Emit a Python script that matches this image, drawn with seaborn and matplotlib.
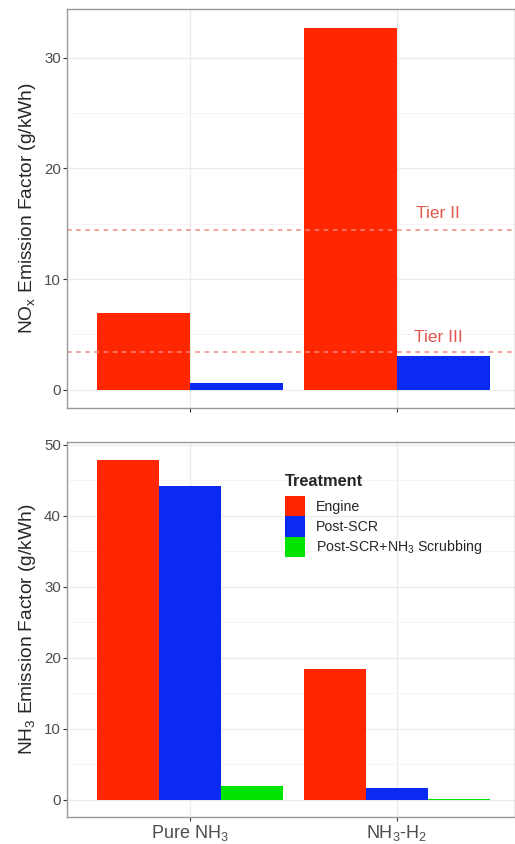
import numpy as np
import pandas as pd
import seaborn as sns
import matplotlib
matplotlib.use("Agg")
import matplotlib.pyplot as plt
from matplotlib.ticker import MultipleLocator

# data
fuels = ["Pure NH$_3$", "NH$_3$-H$_2$"]
fuel_labels = [r"Pure $\mathregular{NH_3}$", r"$\mathregular{NH_3}$-$\mathregular{H_2}$"]
treatments = ["Engine", "Post-SCR", "Post-SCR+NH3 Scrubbing"]
treat_labels = ["Engine", "Post-SCR", r"Post-SCR+$\mathregular{NH_3}$ Scrubbing"]
nox_engine = [6.9, 32.7]
nox_postscr = [0.6, 3.1]
nh3_engine = [47.9, 18.4]
nh3_postscr = [44.2, 1.7]
nh3_scrub = [2.0, 0.1]
tier_vals = [14.4, 3.4]
tier_names = ["Tier II", "Tier III"]

colors = {"Engine": "#FF2600", "Post-SCR": "#0A2AF2",
          "Post-SCR+NH3 Scrubbing": "#00E400"}

nox = pd.DataFrame({"Fuel": fuels * 2,
                    "Treatment": ["Engine"] * 2 + ["Post-SCR"] * 2,
                    "EF": nox_engine + nox_postscr})
nh3 = pd.DataFrame({"Fuel": fuels * 3,
                    "Treatment": ["Engine"] * 2 + ["Post-SCR"] * 2 + ["Post-SCR+NH3 Scrubbing"] * 2,
                    "EF": nh3_engine + nh3_postscr + nh3_scrub})

sns.set_style("white")
plt.rcParams["font.family"] = ["Liberation Sans", "DejaVu Sans"]
plt.rcParams["mathtext.fontset"] = "custom"
plt.rcParams["mathtext.rm"] = "Liberation Sans"
plt.rcParams["mathtext.it"] = "Liberation Sans:italic"
plt.rcParams["mathtext.bf"] = "Liberation Sans:bold"

fig = plt.figure(figsize=(5.15, 8.44), dpi=100)
ax1 = fig.add_axes([67/515, 1-408/844, 448/515, 399/844])
ax2 = fig.add_axes([67/515, 1-817/844, 448/515, 375/844])

sns.barplot(data=nox, x="Fuel", y="EF", hue="Treatment", order=fuels,
            hue_order=treatments[:2], palette=colors, width=0.9,
            saturation=1, errorbar=None, linewidth=0, legend=False, ax=ax1)
sns.barplot(data=nh3, x="Fuel", y="EF", hue="Treatment", order=fuels,
            hue_order=treatments, palette=colors, width=0.9,
            saturation=1, errorbar=None, linewidth=0, ax=ax2)

# emission limits
for v, name, ty in zip(tier_vals, tier_names, [15.9, 4.7]):
    ax1.axhline(v, color="#F08A80", ls=(0, (3, 3)), lw=1.1, zorder=2.5)
    ax1.text(1.2, ty, name, color="#E0574D", fontsize=12.5,
             ha="center", va="center")

for ax, lim, major in [(ax1, (-1.64, 34.4), 10), (ax2, (-2.4, 50.4), 10)]:
    ax.set_ylim(*lim)
    ax.set_xlim(-0.594, 1.57)
    ax.yaxis.set_major_locator(MultipleLocator(major))
    ax.yaxis.set_minor_locator(MultipleLocator(major / 2))
    ax.grid(which="major", color="#EBEBEB", lw=0.9, zorder=0)
    ax.grid(which="minor", axis="y", color="#F3F3F3", lw=0.6, zorder=0)
    ax.set_axisbelow(True)
    for s in ax.spines.values():
        s.set_color("#999999")
        s.set_linewidth(1.0)
    ax.tick_params(axis="both", which="major", length=3, width=0.8,
                   color="#333333", labelcolor="#4D4D4D", labelsize=10.8,
                   pad=1.5, left=True, bottom=True)
    ax.tick_params(which="minor", length=0)
    ax.set_xlabel("")

ax1.set_xticklabels([])
ax2.set_xticks([0, 1])
ax2.set_xticklabels(fuel_labels, fontsize=13)
ax1.set_ylabel(r"$\mathregular{NO_x}$ Emission Factor (g/kWh)", fontsize=13.8,
               labelpad=4)
ax2.set_ylabel(r"$\mathregular{NH_3}$ Emission Factor (g/kWh)", fontsize=13.8,
               labelpad=4)

handles, _ = ax2.get_legend_handles_labels()
leg = ax2.legend(handles, treat_labels, title="Treatment", loc="upper left",
                 bbox_to_anchor=(0.487, 0.915), frameon=False, fontsize=10.2,
                 title_fontproperties={"weight": "bold", "size": 11.8},
                 handlelength=1.4, handleheight=1.84, labelspacing=0.0,
                 handletextpad=0.75, borderpad=0, borderaxespad=0)
leg._legend_box.align = "left"
leg._legend_box.sep = 5

fig.savefig("out.png", dpi=100)
